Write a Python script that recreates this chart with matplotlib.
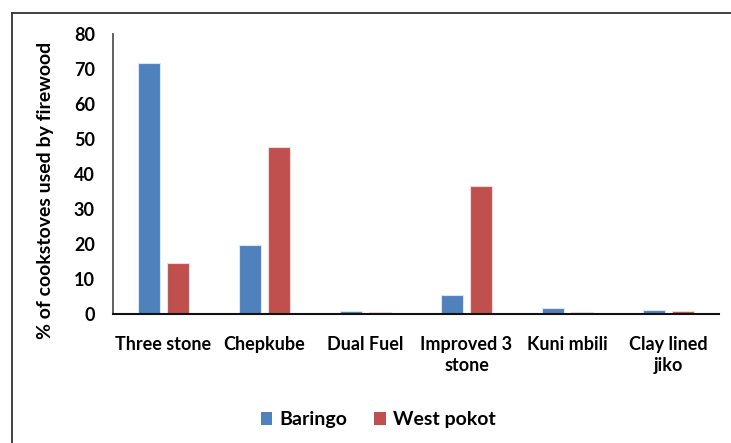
import matplotlib
matplotlib.use("Agg")
import matplotlib.pyplot as plt
import numpy as np
from matplotlib.lines import Line2D
from matplotlib.patches import Patch

categories = ["Three stone", "Chepkube", "Dual Fuel", "Improved 3\nstone", "Kuni mbili", "Clay lined\njiko"]
baringo = [71.8, 19.6, 0.9, 5.3, 1.6, 1.1]
west_pokot = [14.5, 47.8, 0.5, 36.6, 0.5, 0.8]
yticks = [0, 10, 20, 30, 40, 50, 60, 70, 80]
ylabel = "% of cookstoves used by firewood"
series_names = ["Baringo", "West pokot"]

blue = "#4F81BD"
red = "#C0504D"

plt.rcParams['font.family'] = ['Lato', 'DejaVu Sans']
plt.rcParams['font.weight'] = 'bold'

fig = plt.figure(figsize=(7.31, 4.43), dpi=100)
ax = fig.add_axes([113/731, (443-314)/443, 606/731, 280/443])

x = np.arange(len(categories))
w = 0.224
off = 0.144
ax.bar(x - off, baringo, width=w, color=blue, edgecolor="#DCE6F2", linewidth=0.8)
ax.bar(x + off, west_pokot, width=w, color=red, edgecolor="#F2DCDB", linewidth=0.8)

ax.set_xlim(-0.5, len(categories) - 0.5)
ax.set_ylim(0, 80)
ax.set_yticks(yticks)
ax.set_yticklabels([str(t) for t in yticks], fontsize=13, fontweight='bold')
ax.set_xticks(x)
ax.set_xticklabels(categories, fontsize=13, fontweight='bold', linespacing=1.25)
ax.tick_params(axis='y', length=0, pad=13)
ax.tick_params(axis='x', length=0, pad=16)
for s in ['top', 'right']:
    ax.spines[s].set_visible(False)
ax.spines['left'].set_color('#555555')
ax.spines['left'].set_linewidth(1.3)
ax.spines['bottom'].set_color('#111111')
ax.spines['bottom'].set_linewidth(1.5)
ax.set_ylabel(ylabel, fontsize=14, fontweight='bold')
ax.yaxis.set_label_coords(-(113-54)/606, 0.44)

handles = [Patch(facecolor=blue, edgecolor='none'), Patch(facecolor=red, edgecolor='none')]
fig.legend(handles, series_names, loc='center', bbox_to_anchor=(378/731, 1 - 420/443),
           ncol=2, frameon=False, prop={'weight': 'bold', 'size': 14},
           handlelength=0.6, handleheight=0.6, handletextpad=0.35, columnspacing=1.4)

fig.add_artist(Line2D([12/731, 1.0], [1 - 12.5/443, 1 - 12.5/443], color='#333333', lw=1.3, transform=fig.transFigure))
fig.add_artist(Line2D([12/731, 12/731], [0, 1 - 12.5/443], color='#333333', lw=1.3, transform=fig.transFigure))

fig.savefig("out.png", dpi=100)
